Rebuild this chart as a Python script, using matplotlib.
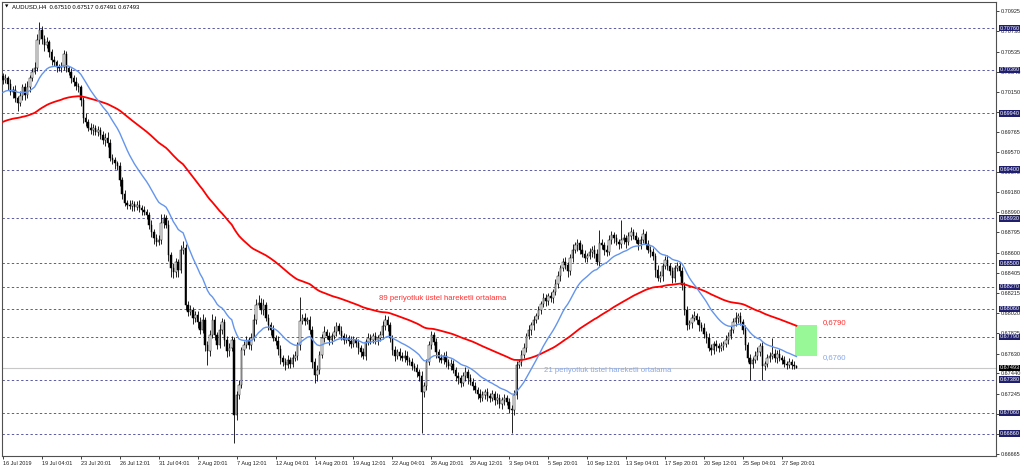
import numpy as np
import pandas as pd
import matplotlib
matplotlib.use("Agg")
import matplotlib.pyplot as plt
from matplotlib.patches import Rectangle

TITLE = "AUDUSD,H4  0.67510 0.67517 0.67491 0.67493"
FIRST_OPEN = 0.7030

# H4 closes, 16 Jul 2019 12:00 .. 30 Sep 2019 20:00
CLOSES = [
    0.7026, 0.7028, 0.7022, 0.7015, 0.7017, 0.7009, 0.7004, 0.7011, 0.7019, 0.7012,
    0.7019, 0.7028, 0.7034, 0.7038, 0.7065, 0.7074, 0.7066, 0.7060, 0.7063, 0.7053,
    0.7045, 0.7043, 0.7039, 0.7038, 0.7039, 0.7051, 0.7038, 0.7034, 0.7028, 0.7024,
    0.7020, 0.7019, 0.7007, 0.6990, 0.6986, 0.6980, 0.6978, 0.6980, 0.6976, 0.6978,
    0.6973, 0.6968, 0.6970, 0.6966, 0.6951, 0.6949, 0.6946, 0.6943, 0.6930, 0.6916,
    0.6908, 0.6906, 0.6905, 0.6907, 0.6904, 0.6906, 0.6903, 0.6901, 0.6899, 0.6896,
    0.6887, 0.6880, 0.6874, 0.6870, 0.6872, 0.6889, 0.6893, 0.6887, 0.6858, 0.6845,
    0.6841, 0.6851, 0.6843, 0.6863, 0.6865, 0.6810, 0.6803, 0.6805, 0.6797, 0.6800,
    0.6793, 0.6786, 0.6795, 0.6771, 0.6765, 0.6781, 0.6795, 0.6781, 0.6771, 0.6786,
    0.6793, 0.6776, 0.6765, 0.6768, 0.6776, 0.6704, 0.6723, 0.6733, 0.6766, 0.6771,
    0.6776, 0.6771, 0.6778, 0.6795, 0.6810, 0.6812, 0.6805, 0.6810, 0.6797, 0.6790,
    0.6786, 0.6778, 0.6775, 0.6767, 0.6759, 0.6755, 0.6752, 0.6757, 0.6753, 0.6759,
    0.6761, 0.6771, 0.6794, 0.6797, 0.6794, 0.6795, 0.6786, 0.6755, 0.6742, 0.6747,
    0.6762, 0.6778, 0.6784, 0.6780, 0.6776, 0.6780, 0.6784, 0.6789, 0.6785, 0.6780,
    0.6776, 0.6778, 0.6775, 0.6772, 0.6776, 0.6773, 0.6768, 0.6764, 0.6761, 0.6774,
    0.6778, 0.6776, 0.6780, 0.6776, 0.6778, 0.6781, 0.6789, 0.6795, 0.6790, 0.6778,
    0.6766, 0.6761, 0.6764, 0.6761, 0.6759, 0.6761, 0.6757, 0.6755, 0.6751, 0.6749,
    0.6745, 0.6741, 0.6726, 0.6732, 0.6755, 0.6771, 0.6781, 0.6774, 0.6764, 0.6759,
    0.6757, 0.6761, 0.6755, 0.6751, 0.6753, 0.6747, 0.6741, 0.6739, 0.6735, 0.6741,
    0.6745, 0.6739, 0.6736, 0.6732, 0.6728, 0.6724, 0.6720, 0.6723, 0.6726, 0.6722,
    0.6720, 0.6724, 0.6718, 0.6720, 0.6714, 0.6718, 0.6720, 0.6716, 0.6710, 0.6709,
    0.6723, 0.6752, 0.6755, 0.6762, 0.6768, 0.6780, 0.6786, 0.6790, 0.6795, 0.6799,
    0.6805, 0.6811, 0.6816, 0.6814, 0.6818, 0.6816, 0.6822, 0.6830, 0.6838, 0.6845,
    0.6851, 0.6848, 0.6842, 0.6855, 0.6863, 0.6867, 0.6869, 0.6863, 0.6859, 0.6855,
    0.6857, 0.6861, 0.6863, 0.6859, 0.6851, 0.6869, 0.6867, 0.6863, 0.6861, 0.6872,
    0.6877, 0.6874, 0.6870, 0.6868, 0.6872, 0.6874, 0.6870, 0.6876, 0.6880, 0.6876,
    0.6872, 0.6868, 0.6872, 0.6878, 0.6868, 0.6863, 0.6861, 0.6857, 0.6843, 0.6836,
    0.6838, 0.6847, 0.6853, 0.6847, 0.6842, 0.6836, 0.6845, 0.6847, 0.6842, 0.6829,
    0.6805, 0.6790, 0.6792, 0.6797, 0.6799, 0.6795, 0.6790, 0.6788, 0.6782, 0.6778,
    0.6768, 0.6766, 0.6772, 0.6770, 0.6768, 0.6770, 0.6772, 0.6776, 0.6780, 0.6786,
    0.6793, 0.6797, 0.6799, 0.6793, 0.6786, 0.6771, 0.6759, 0.6753, 0.6757, 0.6761,
    0.6764, 0.6770, 0.6751, 0.6753, 0.6759, 0.6761, 0.6763, 0.6759, 0.6763, 0.6759,
    0.6757, 0.6753, 0.6752, 0.6755, 0.6752, 0.6751, 0.67493,
]

# wick lengths above / below the body, in pips
WICK_UP = [
    3, 4, 2, 5, 3, 4, 2, 5, 3, 4, 6, 3, 4, 5, 5, 8, 4, 3, 5, 2,
    3, 4, 2, 3, 4, 4, 3, 2, 4, 3, 5, 3, 2, 3, 4, 3, 5, 4, 3, 4,
    3, 4, 5, 6, 3, 4, 3, 2, 4, 3, 4, 3, 5, 4, 3, 4, 5, 3, 4, 3,
    3, 4, 3, 4, 5, 8, 4, 3, 4, 3, 5, 4, 3, 4, 6, 3, 4, 5, 3, 4,
    4, 5, 6, 3, 4, 5, 6, 4, 3, 5, 4, 3, 4, 5, 4, 3, 4, 5, 3, 4,
    4, 3, 5, 6, 5, 7, 4, 5, 3, 4, 3, 4, 3, 5, 4, 3, 4, 5, 3, 4,
    4, 3, 23, 4, 5, 3, 4, 3, 4, 5, 3, 4, 5, 3, 4, 3, 5, 4, 3, 4,
    3, 4, 3, 5, 4, 3, 4, 3, 4, 3, 5, 4, 3, 4, 3, 4, 5, 5, 4, 3,
    3, 4, 3, 4, 3, 5, 4, 3, 4, 3, 4, 3, 5, 4, 3, 4, 4, 3, 4, 3,
    4, 3, 4, 3, 5, 4, 3, 4, 3, 4, 5, 3, 4, 3, 4, 3, 5, 4, 3, 4,
    3, 4, 3, 5, 4, 3, 4, 3, 4, 3, 5, 4, 3, 4, 5, 3, 4, 3, 4, 3,
    4, 3, 5, 4, 3, 4, 3, 5, 4, 3, 4, 5, 3, 4, 5, 3, 4, 3, 5, 4,
    3, 4, 3, 4, 5, 13, 4, 3, 4, 5, 4, 3, 4, 3, 19, 4, 3, 4, 5, 3,
    4, 3, 4, 5, 3, 4, 3, 4, 3, 5, 4, 3, 4, 5, 3, 4, 3, 4, 3, 4,
    3, 4, 3, 4, 5, 3, 4, 3, 4, 3, 5, 4, 3, 4, 3, 4, 3, 5, 4, 3,
    4, 6, 3, 4, 3, 4, 3, 4, 3, 4, 5, 3, 4, 3, 4, 3, 15, 4, 3, 4,
    3, 4, 3, 4, 3, 4, 1,
]
WICK_DN = [
    4, 3, 5, 3, 6, 4, 8, 3, 4, 5, 3, 4, 3, 2, 3, 4, 5, 6, 3, 5,
    4, 3, 5, 3, 4, 3, 4, 3, 5, 4, 3, 4, 6, 5, 4, 3, 4, 5, 3, 4,
    4, 3, 5, 4, 3, 4, 5, 3, 6, 4, 3, 4, 3, 5, 4, 3, 4, 5, 3, 4,
    4, 5, 6, 4, 3, 4, 5, 3, 6, 8, 5, 4, 6, 3, 4, 5, 4, 3, 6, 4,
    5, 4, 3, 6, 13, 4, 3, 5, 4, 3, 4, 6, 5, 4, 3, 27, 5, 4, 3, 4,
    3, 4, 5, 3, 4, 3, 4, 5, 3, 4, 5, 3, 4, 5, 6, 4, 5, 3, 4, 3,
    3, 4, 5, 3, 4, 3, 4, 6, 7, 5, 4, 3, 4, 3, 5, 4, 3, 4, 3, 4,
    4, 3, 5, 4, 3, 4, 5, 4, 3, 4, 3, 4, 3, 4, 5, 3, 4, 3, 5, 4,
    4, 5, 3, 4, 3, 4, 5, 3, 4, 3, 5, 4, 39, 5, 4, 3, 4, 3, 5, 4,
    3, 4, 5, 3, 4, 3, 4, 5, 4, 3, 4, 5, 3, 4, 3, 5, 4, 3, 4, 5,
    4, 3, 5, 4, 3, 4, 5, 3, 4, 22, 5, 4, 3, 4, 3, 4, 3, 5, 4, 3,
    3, 4, 3, 5, 4, 3, 4, 3, 4, 5, 3, 4, 5, 3, 4, 3, 5, 4, 3, 4,
    4, 3, 5, 4, 3, 4, 3, 5, 4, 3, 4, 5, 3, 4, 3, 4, 5, 3, 4, 3,
    3, 5, 4, 3, 4, 3, 5, 4, 6, 3, 4, 5, 3, 4, 3, 5, 4, 3, 4, 5,
    5, 4, 3, 4, 3, 4, 5, 3, 4, 5, 3, 4, 3, 5, 4, 3, 4, 3, 4, 3,
    3, 4, 5, 3, 4, 5, 4, 15, 4, 3, 4, 3, 13, 4, 3, 4, 3, 4, 5, 3,
    4, 3, 4, 3, 4, 3, 0,
]

EMA_SLOW, EMA_SLOW_SEED = 89, 0.6985
EMA_FAST, EMA_FAST_SEED = 21, 0.7013

LEVELS = [0.70760, 0.70360, 0.69940, 0.69400, 0.68930, 0.68500,
          0.68270, 0.68060, 0.67790, 0.67380, 0.67060, 0.66860]
PRICE_TICKS = [0.70925, 0.70730, 0.70535, 0.70340, 0.70150, 0.69955,
               0.69765, 0.69570, 0.69375, 0.69180, 0.68990, 0.68795,
               0.68600, 0.68405, 0.68215, 0.68020, 0.67825, 0.67630,
               0.67440, 0.67245, 0.67050, 0.66860, 0.66665]
DATE_LABELS = ["16 Jul 2019", "19 Jul 04:01", "23 Jul 20:01", "26 Jul 12:01",
               "31 Jul 04:01", "2 Aug 20:01", "7 Aug 12:01", "12 Aug 04:01",
               "14 Aug 20:01", "19 Aug 12:01", "22 Aug 04:01", "26 Aug 20:01",
               "29 Aug 12:01", "3 Sep 04:01", "5 Sep 20:01", "10 Sep 12:01",
               "13 Sep 04:01", "17 Sep 20:01", "20 Sep 12:01", "25 Sep 04:01",
               "27 Sep 20:01"]
DATE_STEP = 16
LAST_PRICE = 0.67493
TARGET_TOP, TARGET_BOTTOM = 0.6790, 0.6761

closes = np.array(CLOSES)
opens = np.concatenate([[FIRST_OPEN], closes[:-1]])
highs = np.maximum(opens, closes) + np.array(WICK_UP) * 0.0001
lows = np.minimum(opens, closes) - np.array(WICK_DN) * 0.0001
idx = np.arange(len(closes))


def ema(seed, span):
    s = pd.Series([seed] + CLOSES)
    return s.ewm(span=span, adjust=False).mean().values[1:]


NAVY = "#1f1f6e"
RED_TXT = "#ff3030"
BLUE_TXT = "#86a8ec"
FS = 4.0
ANN_FS = 5.6
plt.rcParams["font.family"] = ["Liberation Sans", "DejaVu Sans"]

fig = plt.figure(figsize=(10.24, 4.69), dpi=100)
ax = fig.add_axes([2 / 1024, 13 / 469, 994 / 1024, 454 / 469])
ax.set_xlim(-0.4, 408)
ax.set_ylim(0.66644, 0.71012)

for lv in LEVELS:
    ax.axhline(lv, color="#5a5aa6", lw=0.7, ls=(0, (2.4, 2.4)), zorder=1)
ax.axhline(LAST_PRICE, color="#c8c8c8", lw=0.8, zorder=1)

# candles
up = closes >= opens
body = np.abs(closes - opens)
body = np.maximum(body, 0.00004)
ax.vlines(idx, lows, highs, color="black", lw=0.6, zorder=2)
ax.bar(idx[up], body[up], bottom=opens[up], width=0.62, color="white",
       edgecolor="black", linewidth=0.35, zorder=3)
ax.bar(idx[~up], body[~up], bottom=closes[~up], width=0.62, color="black",
       edgecolor="black", linewidth=0.35, zorder=3)

ax.plot(idx, ema(EMA_SLOW_SEED, EMA_SLOW), color="#ff0000", lw=1.3, zorder=4)
ax.plot(idx, ema(EMA_FAST_SEED, EMA_FAST), color="#6495ed", lw=1.0, zorder=4)

ax.text(154.7, 0.68164, "89 periyotluk üstel hareketli ortalama", color=RED_TXT,
        fontsize=ANN_FS, va="center", ha="left")
ax.text(222.4, 0.67470, "21 periyotluk üstel hareketli ortalama", color=BLUE_TXT,
        fontsize=ANN_FS, va="center", ha="left")
ax.add_patch(Rectangle((325.3, TARGET_BOTTOM), 9.1, TARGET_TOP - TARGET_BOTTOM,
                       facecolor="#98f898", edgecolor="none", zorder=2))
ax.text(336.8, 0.67925, "0,6790", color=RED_TXT, fontsize=ANN_FS, va="center")
ax.text(336.8, 0.67590, "0,6760", color=BLUE_TXT, fontsize=ANN_FS, va="center")

# axes styling
for sp in ax.spines.values():
    sp.set_color("#505050")
    sp.set_linewidth(0.8)
ax.yaxis.tick_right()
ax.set_yticks(PRICE_TICKS)
ax.set_yticklabels([f"{p:.5f}" for p in PRICE_TICKS])
ax.tick_params(axis="y", length=2, width=0.6, pad=1.5, labelsize=FS, colors="#202020")
ax.set_xticks(idx[::DATE_STEP][:len(DATE_LABELS)])
ax.set_xticklabels(DATE_LABELS)
ax.tick_params(axis="x", length=2, width=0.6, pad=1.5, labelsize=FS, colors="#202020")
for lab in ax.get_xticklabels():
    lab.set_ha("left")

ytr = ax.get_yaxis_transform()
for lv in LEVELS:
    ax.text(1.0035, lv, f"{lv:.5f}", transform=ytr, fontsize=FS, color="white",
            va="center", ha="left", clip_on=False, zorder=6,
            bbox=dict(boxstyle="square,pad=0.12", fc=NAVY, ec="none"))
ax.text(1.0035, LAST_PRICE, f"{LAST_PRICE:.5f}", transform=ytr, fontsize=FS,
        color="white", va="center", ha="left", clip_on=False, zorder=6,
        bbox=dict(boxstyle="square,pad=0.12", fc="black", ec="none"))

fig.text(5 / 1024, 1 - 6.5 / 469, "▼", fontsize=3.2, va="center", ha="left",
         family="DejaVu Sans")
fig.text(12 / 1024, 1 - 6.5 / 469, TITLE, fontsize=4.2, va="center", ha="left")

fig.savefig("out.png", dpi=100)
